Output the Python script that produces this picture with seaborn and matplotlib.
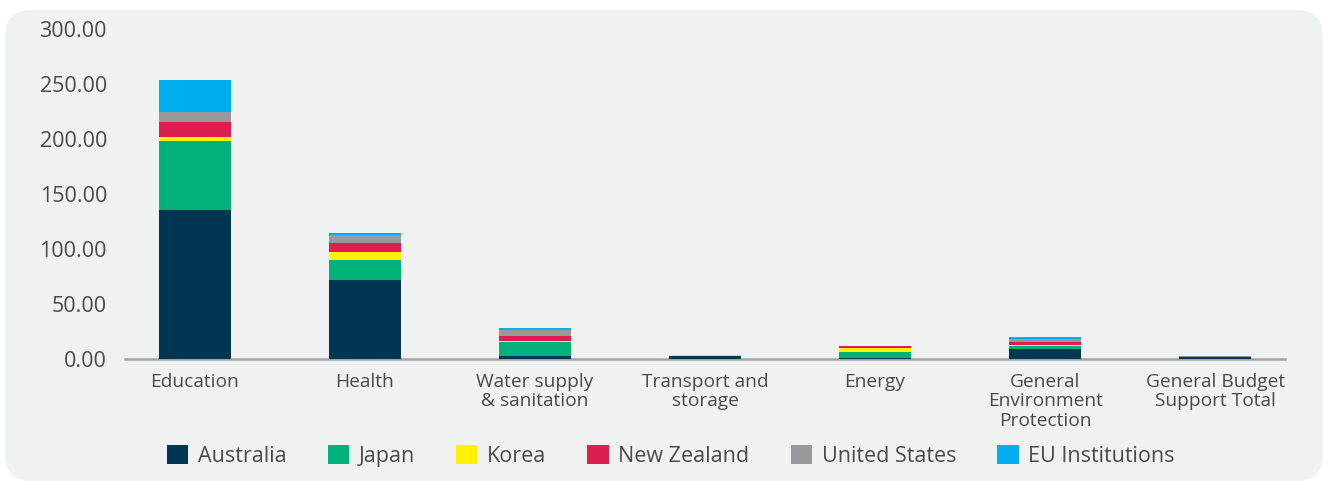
import matplotlib
matplotlib.use("Agg")
import matplotlib.pyplot as plt
from matplotlib.patches import FancyBboxPatch, Patch
import seaborn as sns
import pandas as pd
import numpy as np

categories = ["Education", "Health", "Water supply\n& sanitation", "Transport and\nstorage",
              "Energy", "General\nEnvironment\nProtection", "General Budget\nSupport Total"]
donors = ["Australia", "Japan", "Korea", "New Zealand", "United States", "EU Institutions"]
australia = [135.5, 71.8, 2.7, 2.7, 0.9, 9.1, 2.0]
japan = [62.7, 18.2, 12.8, 0.0, 5.5, 2.7, 0.0]
korea = [3.6, 7.3, 0.9, 0.8, 3.6, 0.9, 0.0]
new_zealand = [13.7, 8.2, 4.5, 0.0, 1.8, 2.7, 0.0]
united_states = [9.0, 7.2, 5.5, 0.0, 0.0, 2.7, 0.6]
eu_institutions = [29.1, 1.8, 1.8, 0.0, 0.0, 1.8, 0.0]
colors = ["#003652", "#00B27A", "#FFF200", "#DC1F4E", "#97999B", "#00AEEF"]

series = [australia, japan, korea, new_zealand, united_states, eu_institutions]
cum = np.cumsum(np.array(series), axis=0)

sns.set_theme(style="white")
plt.rcParams["font.family"] = ["Open Sans", "DejaVu Sans"]
text_color = "#4a4a4a"

fig = plt.figure(figsize=(13.31, 4.84), dpi=100)
fig.patch.set_facecolor("white")
bg = FancyBboxPatch((5 / 1331, 3 / 484), 1318 / 1331, 471 / 484,
                    boxstyle="round,pad=0,rounding_size=0.02",
                    transform=fig.transFigure, facecolor="#F0F2F1", edgecolor="none",
                    mutation_aspect=1331 / 484, zorder=-5)
fig.patches.append(bg)

ax = fig.add_axes([125 / 1331, 125 / 484, 1160 / 1331, 330 / 484])
ax.set_facecolor("none")

# stacked bars: draw cumulative totals from top series down
for i in range(len(donors) - 1, -1, -1):
    df = pd.DataFrame({"cat": categories, "val": cum[i]})
    sns.barplot(data=df, x="cat", y="val", order=categories, color=colors[i],
                width=0.424, saturation=1, ax=ax, linewidth=0, zorder=2)

ax.set_xlim(-0.41, len(categories) - 1 + 0.41)
ax.set_ylim(0, 300)
ax.set_yticks(np.arange(0, 301, 50))
ax.set_yticklabels([f"{v:.2f}" for v in np.arange(0, 301, 50)], fontsize=15.5, color=text_color)
ax.tick_params(axis="y", length=0, pad=13)
ax.tick_params(axis="x", length=0, pad=10)
for lbl in ax.get_xticklabels():
    lbl.set_fontsize(13.8)
    lbl.set_color(text_color)
    lbl.set_linespacing(1.1)
    lbl.set_verticalalignment("top")
ax.set_xlabel("")
ax.set_ylabel("")
for s in ["top", "right", "left"]:
    ax.spines[s].set_visible(False)
ax.spines["bottom"].set_color("#A3A3A3")
ax.spines["bottom"].set_linewidth(1.8)
ax.spines["bottom"].set_zorder(1)

handles = [Patch(facecolor=c, edgecolor="none") for c in colors]
leg = fig.legend(handles, donors, loc="center", bbox_to_anchor=(0.504, 28 / 484), ncol=6,
                 frameon=False, fontsize=15.5, handlelength=1.0, handleheight=1.0,
                 handletextpad=0.45, columnspacing=1.9)
for t in leg.get_texts():
    t.set_color(text_color)

fig.savefig("out.png", dpi=100, facecolor="white")
